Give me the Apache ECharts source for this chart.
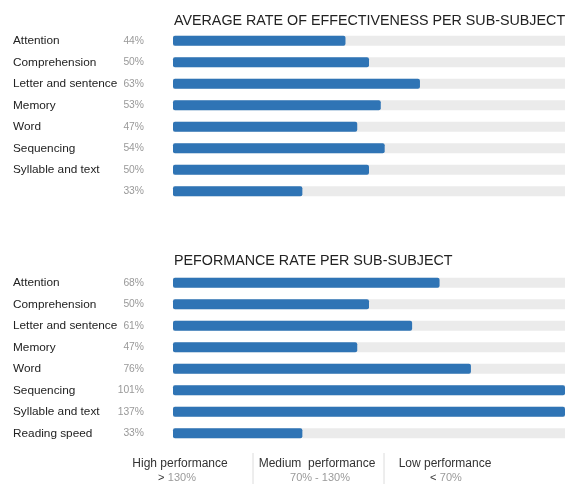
<!DOCTYPE html>
<html>
<head>
<meta charset="utf-8">
<script src="https://cdn.jsdelivr.net/npm/echarts@6/dist/echarts.min.js"></script>
<style>
html,body{margin:0;padding:0;background:#fff;}
#chart{width:565px;height:484px;}
</style>
</head>
<body>
<div id="chart"></div>
<script>
const topTitle = "AVERAGE RATE OF EFFECTIVENESS PER SUB-SUBJECT";
const bottomTitle = "PEFORMANCE RATE PER SUB-SUBJECT";
const topCategories = ["Attention","Comprehension","Letter and sentence","Memory","Word","Sequencing","Syllable and text",""];
const topValues = [44,50,63,53,47,54,50,33];
const bottomCategories = ["Attention","Comprehension","Letter and sentence","Memory","Word","Sequencing","Syllable and text","Reading speed"];
const bottomValues = [68,50,61,47,76,101,137,33];
const legendLabels = ["High performance","Medium  performance","Low performance"];
const legendSigns = [">", "", "<"];
const legendRanges = ["130%","70% - 130%","70%"];

const FONT = "'Liberation Sans', Arial, sans-serif";
const BLUE = "#2f74b5";
const TRACK = "#ebebeb";

function yAxisFor(gridIndex, cats, vals) {
  return {
    type: 'category', gridIndex: gridIndex, data: cats, inverse: true,
    axisLine: {show:false}, axisTick: {show:false}, splitLine:{show:false},
    axisLabel: {
      align: 'left', margin: 160,
      formatter: function (value, index) {
        return '{a|' + value + '}{b|' + vals[index] + '%}';
      },
      rich: {
        a: {width: 104, fontSize: 11.8, color: '#222', fontFamily: FONT, align: 'left'},
        b: {width: 27, fontSize: 10.3, color: '#999', fontFamily: FONT, align: 'right'}
      }
    }
  };
}
function xAxisFor(gridIndex) {
  return {type:'value', gridIndex: gridIndex, min: 0, max: 100, show: false};
}
function seriesFor(i, vals) {
  return {
    type: 'bar', xAxisIndex: i, yAxisIndex: i, data: vals, barWidth: 10,
    showBackground: true, backgroundStyle: {color: TRACK},
    itemStyle: {color: BLUE, borderRadius: 2}, silent: true, animation: false
  };
}

const graphics = [];
const centers = [180, 317, 445];
const rangeCenters = [177, 320, 446];
legendLabels.forEach(function (lab, i) {
  graphics.push({type:'text', x: centers[i], y: 464, style:{
    text: lab, fill:'#333', font: '12px ' + FONT, textAlign:'center', textVerticalAlign:'middle'}});
  graphics.push({type:'text', x: rangeCenters[i], y: 478, style:{
    text: (legendSigns[i] ? '{s|' + legendSigns[i] + '} ' : '') + '{r|' + legendRanges[i] + '}',
    rich: {s:{fill:'#333', font:'11px ' + FONT}, r:{fill:'#9a9a9a', font:'11px ' + FONT}},
    textAlign:'center', textVerticalAlign:'middle'}});
});
[253, 384].forEach(function (x) {
  graphics.push({type:'line', shape:{x1:x, y1:453, x2:x, y2:484}, style:{stroke:'#dcdcdc', lineWidth:1}});
});

const chart = echarts.init(document.getElementById('chart'));
chart.setOption({
  animation: false,
  title: [
    {text: topTitle, left: 169, top: 9, textStyle:{fontSize: 14.3, fontWeight:'normal', color:'#222', fontFamily: FONT}},
    {text: bottomTitle, left: 169, top: 249, textStyle:{fontSize: 14.3, fontWeight:'normal', color:'#222', fontFamily: FONT}}
  ],
  grid: [
    {left: 173, top: 30, width: 395, height: 172},
    {left: 173, top: 272, width: 395, height: 172}
  ],
  xAxis: [xAxisFor(0), xAxisFor(1)],
  yAxis: [yAxisFor(0, topCategories, topValues), yAxisFor(1, bottomCategories, bottomValues)],
  series: [seriesFor(0, topValues), seriesFor(1, bottomValues)],
  graphic: graphics
});
</script>
</body>
</html>
